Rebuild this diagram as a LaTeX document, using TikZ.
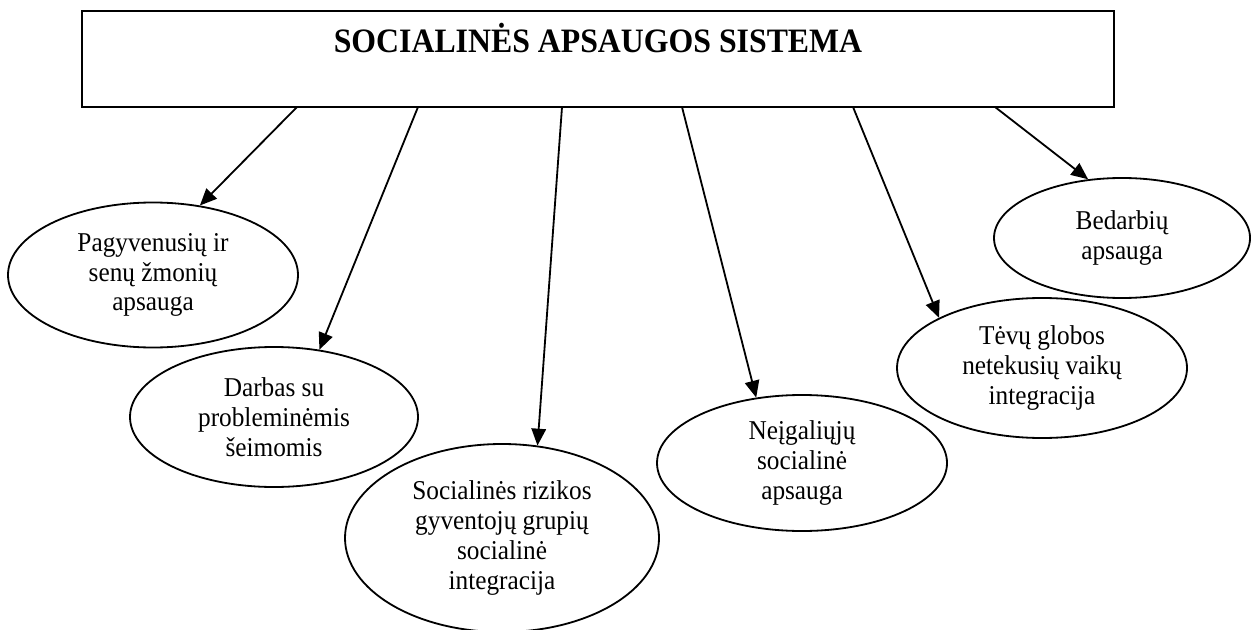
\documentclass[tikz,border=0pt]{standalone}
\usepackage{fontspec}
\setmainfont{Liberation Serif}[FakeStretch=0.93]
\usetikzlibrary{shapes.geometric,arrows.meta}
\newcommand\pxlen{0.386pt}
\tikzset{
  area/.style={ellipse, draw, line width=0.7pt, inner sep=0pt, align=center,
    font=\fontsize{10.5}{11.5}\selectfont},
}
\begin{document}
\begin{tikzpicture}[x=0.386pt, y=-0.386pt, >={Triangle[length=6.5pt,width=5.6pt]}, line width=0.7pt]
\useasboundingbox (0,0) rectangle (1251,630);

\node[draw, line width=0.9pt, inner sep=0pt, minimum width=1032*\pxlen, minimum height=96*\pxlen] (sas) at (598,59) {};
\node[anchor=base, font=\bfseries\fontsize{13.2}{15}\selectfont] (sastitle) at (598,53) {SOCIALINĖS APSAUGOS SISTEMA};

\node[area, minimum width=290*\pxlen, minimum height=145*\pxlen] (pag) at (153,275) {Pagyvenusių ir\\senų žmonių\\apsauga};
\node[area, minimum width=288*\pxlen, minimum height=140*\pxlen] (dar) at (274,417) {Darbas su\\probleminėmis\\šeimomis};
\node[area, minimum width=314*\pxlen, minimum height=188*\pxlen] (soc) at (502,538) {Socialinės rizikos\\gyventojų grupių\\socialinė\\integracija};
\node[area, minimum width=290*\pxlen, minimum height=136*\pxlen] (nei) at (802,463) {Neįgaliųjų\\socialinė\\apsauga};
\node[area, minimum width=290*\pxlen, minimum height=140*\pxlen] (tev) at (1042,368) {Tėvų globos\\netekusių vaikų\\integracija};
\node[area, minimum width=256*\pxlen, minimum height=120*\pxlen] (bed) at (1122,238) {Bedarbių\\apsauga};

\coordinate (s1) at (297,107);
\coordinate (s2) at (418,107);
\coordinate (s3) at (562,107);
\coordinate (s4) at (682,107);
\coordinate (s5) at (853,107);
\coordinate (s6) at (995,107);

\foreach \s/\t in {s1/pag.56, s2/dar.56, s3/soc.69, s4/nei.125, s5/tev.154, s6/bed.120}
{
    \draw[->] (\s) -- (\t);
}

\end{tikzpicture}
\end{document}
